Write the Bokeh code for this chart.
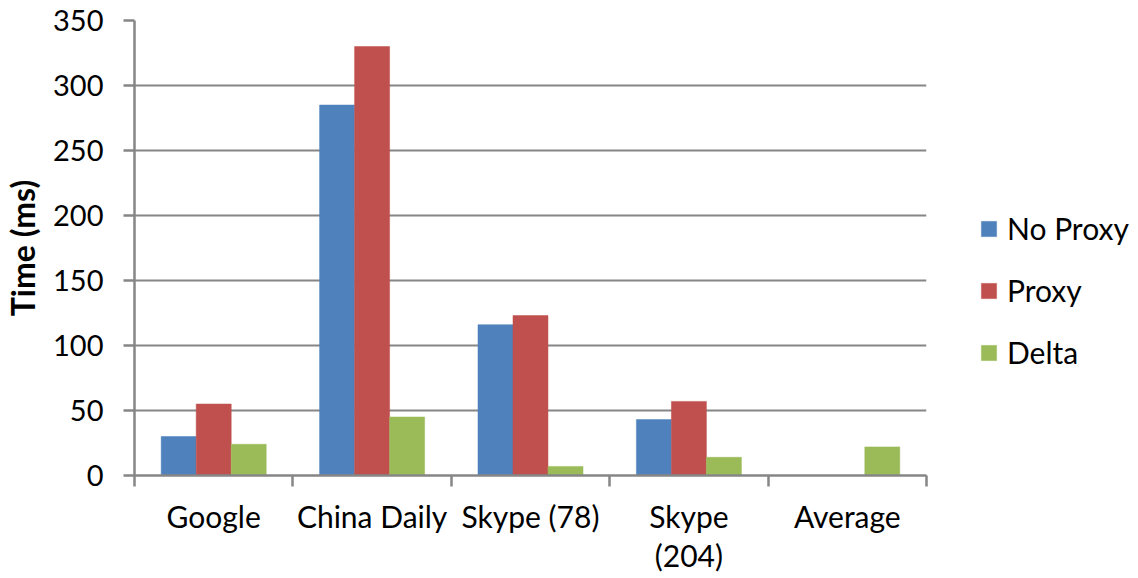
from bokeh.plotting import figure
from bokeh.models import Range1d, FixedTicker, Legend, LegendItem, ColumnDataSource
from bokeh.embed import file_html
from bokeh.resources import INLINE

categories = ["Google", "China Daily", "Skype (78)", "Skype\n(204)", "Average"]
no_proxy = [30, 285, 116, 43, 0]
proxy = [55, 330, 123, 57, 0]
delta = [24, 45, 7, 14, 22]
series_names = ["No Proxy", "Proxy", "Delta"]
colors = ["#4F81BD", "#C0504D", "#9BBB59"]
y_ticks = [0, 50, 100, 150, 200, 250, 300, 350]

FONT = "Lato"
GRAY = "#868686"
BAR_W = 0.221

p = figure(frame_width=792, frame_height=455, x_range=Range1d(0, len(categories)), y_range=Range1d(0, 350),
           output_backend="svg", toolbar_location=None,
           min_border_left=128, min_border_right=202, min_border_top=20, min_border_bottom=100)
p.outline_line_color = None
p.background_fill_color = "white"

centers = [i + 0.5 for i in range(len(categories))]
renderers = []
for k, (vals, col) in enumerate(zip([no_proxy, proxy, delta], colors)):
    xs = [c + (k - 1) * BAR_W for c in centers]
    src = ColumnDataSource(dict(x=xs, top=vals))
    r = p.vbar(x="x", top="top", bottom=0, width=BAR_W, source=src,
               fill_color=col, line_color=col, line_width=0.5)
    renderers.append(r)

# x axis
p.xaxis.ticker = FixedTicker(ticks=centers, minor_ticks=list(range(len(categories) + 1)))
p.xaxis.major_label_overrides = {c: lab for c, lab in zip(centers, categories)}
p.xaxis.major_tick_line_color = None
p.xaxis.minor_tick_line_color = GRAY
p.xaxis.minor_tick_line_width = 2.5
p.xaxis.minor_tick_out = 11
p.xaxis.minor_tick_in = 0
p.xaxis.axis_line_color = GRAY
p.xaxis.axis_line_width = 2.5
p.xaxis.major_label_text_font = FONT
p.xaxis.major_label_text_font_size = "30px"
p.xaxis.major_label_text_color = "black"
p.xaxis.major_label_text_line_height = 1.1
p.xaxis.major_label_standoff = 11
p.xgrid.grid_line_color = None

# y axis
p.yaxis.ticker = FixedTicker(ticks=y_ticks)
p.yaxis.minor_tick_line_color = None
p.yaxis.major_tick_line_color = GRAY
p.yaxis.major_tick_line_width = 2.5
p.yaxis.major_tick_out = 11
p.yaxis.major_tick_in = 0
p.yaxis.axis_line_color = GRAY
p.yaxis.axis_line_width = 2.5
p.yaxis.major_label_text_font = FONT
p.yaxis.major_label_text_font_size = "29px"
p.yaxis.major_label_text_color = "black"
p.yaxis.major_label_standoff = 20
p.yaxis.axis_label = "Time (ms)"
p.yaxis.axis_label_text_font = FONT
p.yaxis.axis_label_text_font_style = "bold"
p.yaxis.axis_label_text_font_size = "32px"
p.yaxis.axis_label_text_color = "black"
p.yaxis.axis_label_standoff = 8
p.ygrid.grid_line_color = GRAY
p.ygrid.grid_line_width = 2

items = [LegendItem(label=n, renderers=[r]) for n, r in zip(series_names, renderers)]
legend = Legend(items=items, location=(53, 105))
legend.padding = 0
legend.margin = 0
legend.border_line_color = None
legend.background_fill_alpha = 0
legend.glyph_width = 19
legend.glyph_height = 19
legend.label_standoff = 9
legend.spacing = 26
legend.label_text_font = FONT
legend.label_text_font_size = "30px"
legend.label_text_color = "black"
p.add_layout(legend, "right")

open("out.html", "w").write(file_html(p, INLINE))
